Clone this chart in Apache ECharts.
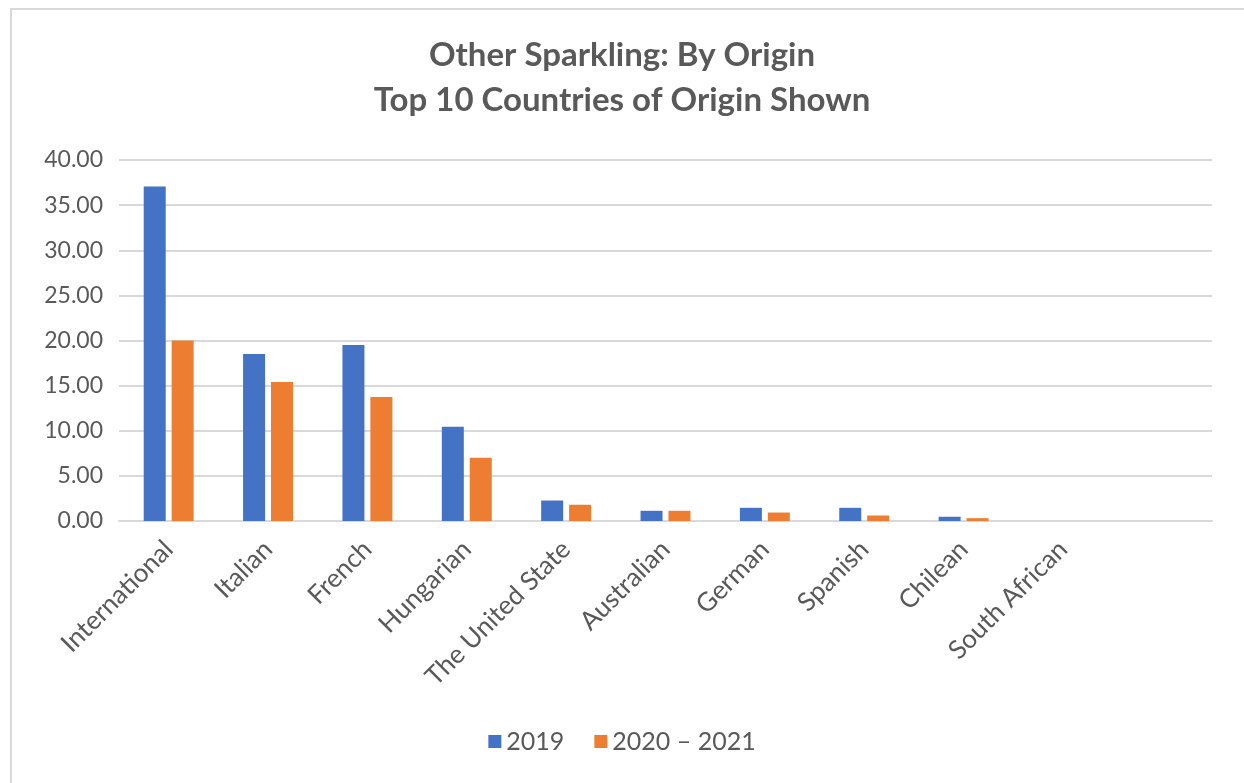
<!DOCTYPE html>
<html>
<head>
<meta charset="utf-8">
<script src="https://cdn.jsdelivr.net/npm/echarts@6/dist/echarts.min.js"></script>
<style>
html,body{margin:0;padding:0;background:#fff;}
#frame{position:absolute;left:10px;top:8px;width:1240px;height:780px;border-left:2px solid #d9d9d9;border-top:2px solid #d9d9d9;box-sizing:border-box;}
#chart{position:absolute;left:0;top:0;width:1244px;height:783px;}
</style>
</head>
<body>
<div id="frame"></div>
<div id="chart"></div>
<script>
const categories = ['International','Italian','French','Hungarian','The United State','Australian','German','Spanish','Chilean','South African',''];
const series2019 = [37.05, 18.5, 19.5, 10.45, 2.27, 1.13, 1.46, 1.46, 0.47, 0, null];
const series2020 = [20.0, 15.4, 13.75, 7.0, 1.8, 1.13, 0.94, 0.61, 0.31, 0, null];
const yTicks = [0, 5, 10, 15, 20, 25, 30, 35, 40];
const seriesNames = ['2019', '2020 \u2013 2021'];

const font = 'Lato, "Open Sans", sans-serif';
const chart = echarts.init(document.getElementById('chart'), null, {renderer: 'canvas'});
chart.setOption({
  animation: false,
  backgroundColor: 'transparent',
  title: {
    text: 'Other Sparkling: By Origin\nTop 10 Countries of Origin Shown',
    left: 'center',
    top: 28,
    textStyle: {fontFamily: font, fontSize: 33, fontWeight: 'bold', color: '#595959', lineHeight: 45}
  },
  legend: {
    bottom: 24,
    left: 'center',
    itemWidth: 13,
    itemHeight: 13,
    itemGap: 30,
    icon: 'rect',
    textStyle: {fontFamily: font, fontSize: 25, color: '#595959'},
    data: seriesNames
  },
  grid: {left: 119, right: 32, top: 160, bottom: 262, containLabel: false},
  xAxis: {
    type: 'category',
    data: categories,
    axisLine: {show: true, lineStyle: {color: '#d9d9d9', width: 2}},
    axisTick: {show: false},
    axisLabel: {rotate: 45, interval: 0, margin: 24, fontFamily: font, fontSize: 26, color: '#595959'}
  },
  yAxis: {
    type: 'value',
    min: yTicks[0],
    max: yTicks[yTicks.length - 1],
    interval: 5,
    axisLine: {show: false},
    axisTick: {show: false},
    splitLine: {lineStyle: {color: '#d9d9d9', width: 2}},
    axisLabel: {margin: 16, fontFamily: font, fontSize: 23, color: '#595959', formatter: v => v.toFixed(2)}
  },
  series: [
    {name: seriesNames[0], type: 'bar', data: series2019, barWidth: 22, barGap: '27%', itemStyle: {color: '#4472C4'}},
    {name: seriesNames[1], type: 'bar', data: series2020, barWidth: 22, barGap: '27%', itemStyle: {color: '#ED7D31'}}
  ]
});
</script>
</body>
</html>
